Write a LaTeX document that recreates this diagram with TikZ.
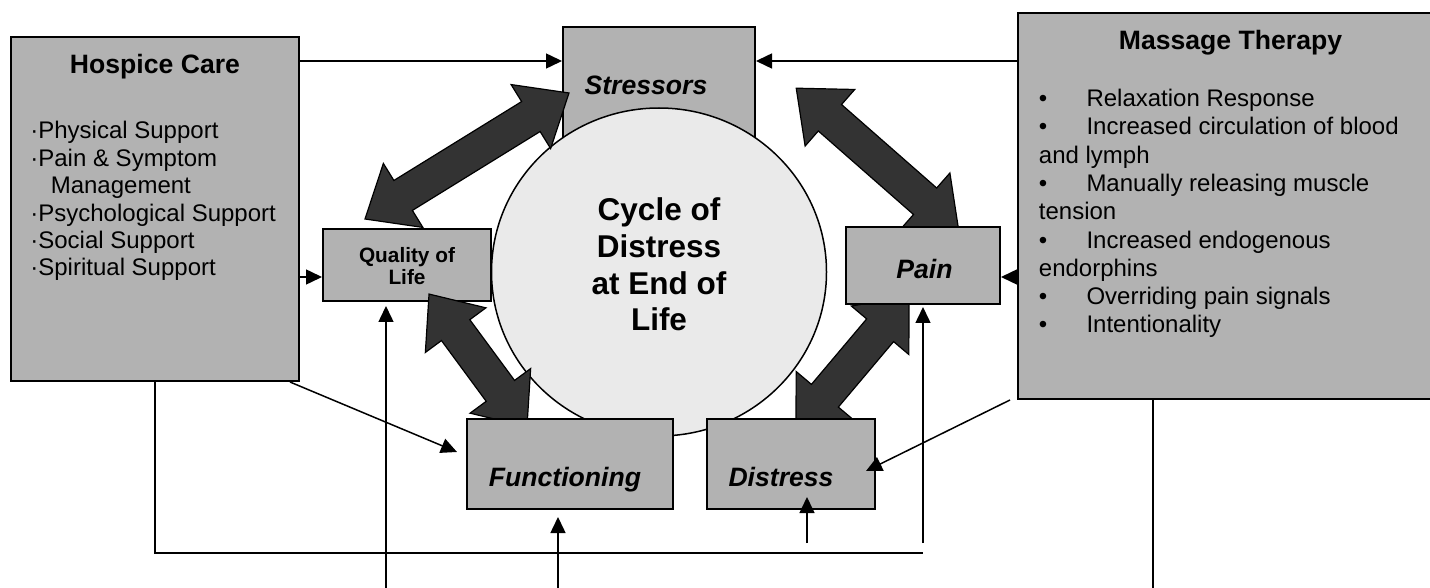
\documentclass[tikz,border=0pt]{standalone}
\usepackage{fontspec}
\setmainfont{Liberation Sans}
\usetikzlibrary{arrows.meta,calc,fit,shapes.geometric,shapes.arrows}

\definecolor{boxgray}{HTML}{B2B2B2}
\definecolor{ringgray}{HTML}{EAEAEA}
\definecolor{fatgray}{HTML}{333333}

\tikzset{
  box/.style={draw, line width=1pt, fill=boxgray, inner sep=0pt},
  conn/.style={line width=0.75pt, -{Triangle[length=8pt,width=7.5pt]}},
  plain/.style={line width=0.75pt},
  fatarrow/.style={double arrow, draw, line width=0.6pt, fill=fatgray,
    inner xsep=0pt, inner ysep=8.5pt, double arrow head extend=10pt,
    double arrow tip angle=80},
  title/.style={font=\bfseries\fontsize{13.3}{16}\selectfont},
  label/.style={font=\bfseries\itshape\fontsize{13.3}{16}\selectfont},
}

\begin{document}
\begin{tikzpicture}[x=0.5pt,y=-0.5pt]
\useasboundingbox (0,0) rectangle (1430,588);

% levels and free ends
\coordinate (ytop) at (0,61);
\coordinate (ymid) at (0,277);
\coordinate (busend) at (923,553);
\coordinate (hstart) at (290,382);
\coordinate (ftip) at (457,452);
\coordinate (mstart) at (1010,400);
\coordinate (dtip) at (866,471);
\coordinate (qolfoot) at (386,588);
\coordinate (funcfoot) at (558,588);
\coordinate (distfoot) at (807,543);
\coordinate (disttip) at (807,497);
\coordinate (painfoot) at (923,543);
\coordinate (mfoot) at (1153,588);

% tips of the fat arrows
\coordinate (sq1) at (569,93);
\coordinate (sq2) at (365,219);
\coordinate (sp1) at (796,88);
\coordinate (sp2) at (959,231);
\coordinate (qf1) at (429,294);
\coordinate (qf2) at (527,427);
\coordinate (pd1) at (909,296);
\coordinate (pd2) at (796,430);

\node[box, fit={(563,27) (755,170)}] (stressors) {};
\node[label, anchor=base] at (646,94.3) {Stressors};

\node[box, fit={(323,229) (491,301)}] (qol) {};
\node[anchor=north, align=center, inner sep=0pt,
  font=\bfseries\fontsize{10.4}{11.15}\selectfont] at (407,246.8) {Quality of\\Life};

% the cycle
\node[ellipse, draw, line width=0.75pt, fill=ringgray, inner sep=0pt,
  minimum width=167.5pt, minimum height=164pt] (cycle) at (659,272) {};
\node[anchor=north, align=center, inner sep=0pt,
  font=\bfseries\fontsize{15.75}{18.35}\selectfont] at (659,197.4)
  {Cycle of\\Distress\\at End of\\Life};

\foreach \a/\b in {sq1/sq2, sp1/sp2, qf1/qf2, pd1/pd2}
  \path let \p1=($(\b)-(\a)$), \n1={atan2(\y1,\x1)}, \n2={veclen(\x1,\y1)} in
    node[fatarrow, minimum height=\n2, rotate=\n1] at ($(\a)!0.5!(\b)$) {};

\node[box, fit={(846,227) (1000,304)}] (pain) {};
\node[label, anchor=base] at (924.5,278.3) {Pain};

\node[box, fit={(467,419) (673,509)}] (functioning) {};
\node[label, anchor=base] at (565,486.7) {Functioning};

\node[box, fit={(707,419) (875,509)}] (distress) {};
\node[label, anchor=base] at (781,486.7) {Distress};

% hospice care
\node[box, fit={(11,37) (299,381)}] (hospice) {};
\node[title, anchor=base] at (155,73.3) {Hospice Care};
\node[anchor=north west, align=left, inner sep=0pt,
  font=\fontsize{12}{13.7}\selectfont] at (30,121.1)
  {·Physical Support\\·Pain \& Symptom\\\hspace*{10.2pt}Management\\
   ·Psychological Support\\·Social Support\\·Spiritual Support};

% massage therapy
\node[box, fit={(1018,13) (1440,399)}] (massage) {};
\node[title, anchor=base] at (1230.5,49.3) {Massage Therapy};
\node[anchor=north west, align=left, inner sep=0pt,
  font=\fontsize{12}{14.15}\selectfont] at (1038.5,88.8)
  {\makebox[23.8pt][l]{•}Relaxation Response\\
   \makebox[23.8pt][l]{•}Increased circulation of blood\\and lymph\\
   \makebox[23.8pt][l]{•}Manually releasing muscle\\tension\\
   \makebox[23.8pt][l]{•}Increased endogenous\\endorphins\\
   \makebox[23.8pt][l]{•}Overriding pain signals\\
   \makebox[23.8pt][l]{•}Intentionality};

% thin connectors
\draw[conn] (hospice.east |- ytop) -- (stressors.west |- ytop);
\draw[conn] (massage.west |- ytop) -- (stressors.east |- ytop);
\draw[conn] (hospice.east |- ymid) -- (qol.west |- ymid);
\draw[conn] (massage.west |- ymid) -- (pain.east |- ymid);
\draw[conn] (hstart) -- (ftip);
\draw[conn] (mstart) -- (dtip);
\draw[plain] (hospice.south) |- (busend);
\draw[conn, shorten >=2pt] (qolfoot) -- (qol.south -| qolfoot);
\draw[conn, shorten >=3.5pt] (funcfoot) -- (functioning.south -| funcfoot);
\draw[conn] (distfoot) -- (disttip);
\draw[conn, shorten >=1pt] (painfoot) -- (pain.south);
\draw[plain] (massage.south -| mfoot) -- (mfoot);
\end{tikzpicture}
\end{document}
